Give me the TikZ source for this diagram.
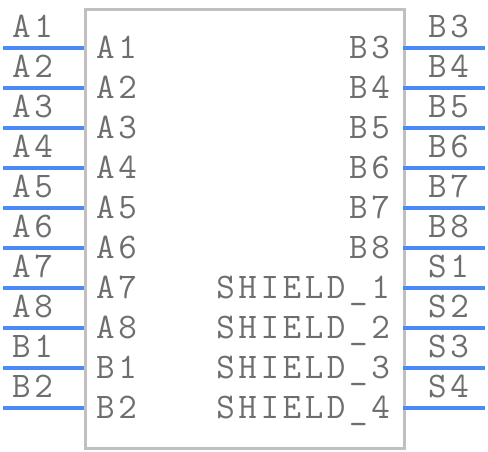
\documentclass[tikz,border=0pt]{standalone}
\usepackage{fontspec}
\setmonofont{Latin Modern Mono}[LetterSpace=10]
\definecolor{pinblue}{RGB}{74,138,244}
\definecolor{boxgray}{RGB}{192,192,192}
\definecolor{txtgray}{RGB}{110,110,110}
\begin{document}
\begin{tikzpicture}[x=1pt,y=-1pt,
  pinline/.style={draw=pinblue,line width=3.5pt},
  lbl/.style={inner sep=0pt,text=txtgray,font=\ttfamily\fontsize{36}{36}\selectfont},
  outl/.style={lbl,anchor=base west},
  inl/.style={lbl,anchor=base west},
  inr/.style={lbl,anchor=base east}]
\useasboundingbox (0,0) rectangle (488,452);
\node[draw=boxgray,line width=3pt,minimum width=319pt,minimum height=438.5pt,inner sep=0pt,anchor=north west] (box) at (84,8.5) {};
\foreach \k/\a in {0/A1,1/A2,2/A3,3/A4,4/A5,5/A6,6/A7,7/A8,8/B1,9/B2}{
  \coordinate (lo\k) at (3,48+40*\k);
  \coordinate (li\k) at (84,48+40*\k);
  \draw[pinline] (lo\k) -- (li\k);
  \node[outl] (lol\k) at (12,37.5+40*\k) {\a};
  \node[inl] (lil\k) at (96,58.5+40*\k) {\a};
}
\foreach \k/\a/\b in {0/B3/B3,1/B4/B4,2/B5/B5,3/B6/B6,4/B7/B7,5/B8/B8,6/S1/SHIELD\_1,7/S2/SHIELD\_2,8/S3/SHIELD\_3,9/S4/SHIELD\_4}{
  \coordinate (ri\k) at (403,48+40*\k);
  \coordinate (ro\k) at (485,48+40*\k);
  \draw[pinline] (ri\k) -- (ro\k);
  \node[outl] (rol\k) at (428,37.5+40*\k) {\a};
  \node[inr] (ril\k) at (390,58.5+40*\k) {\b};
}
\end{tikzpicture}
\end{document}
